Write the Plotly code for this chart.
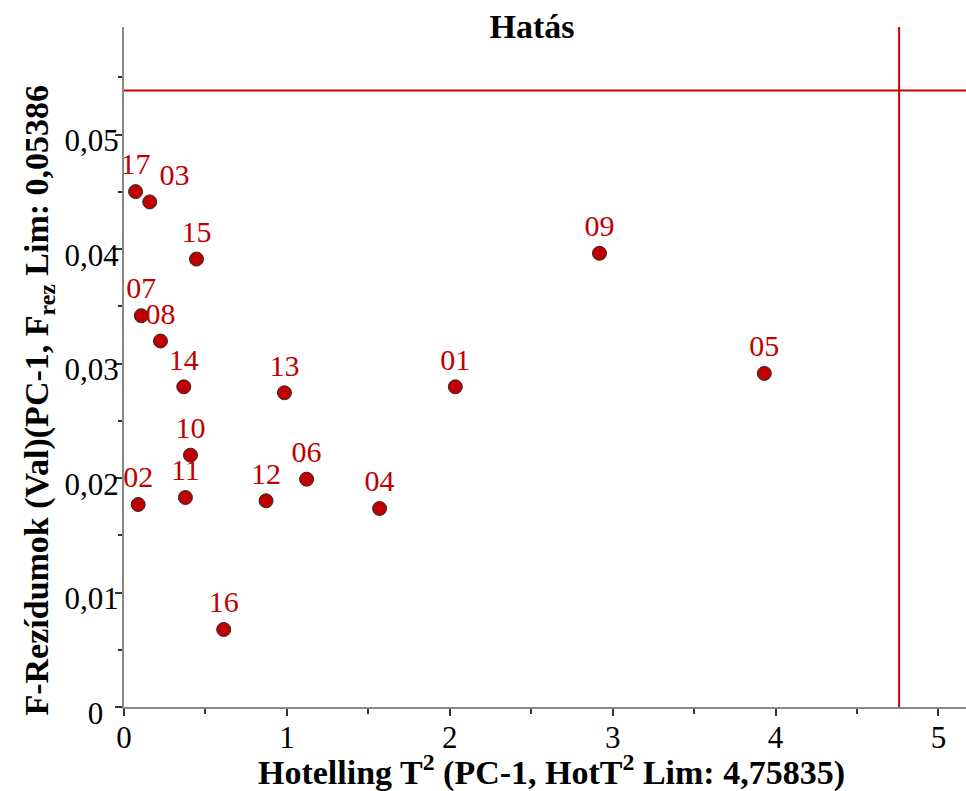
import plotly.graph_objects as go

# ---- data ----
sample_labels = ["01", "02", "03", "04", "05", "06", "07", "08", "09",
                 "10", "11", "12", "13", "14", "15", "16", "17"]
hotelling_t2 = [2.034, 0.087, 0.158, 1.569, 3.931, 1.121, 0.106, 0.224, 2.919,
                0.408, 0.377, 0.872, 0.985, 0.367, 0.445, 0.612, 0.071]
f_residuals = [0.02797, 0.01769, 0.04412, 0.01734, 0.02914, 0.01990, 0.03418, 0.03197, 0.03963,
               0.02200, 0.01830, 0.01801, 0.02745, 0.02797, 0.03913, 0.00677, 0.04502]
label_positions = ["top center", "top center", "top right", "top center", "top center",
                   "top center", "top center", "top center", "top center", "top center",
                   "top center", "top center", "top center", "top center", "top center",
                   "top center", "top center"]
hot_t2_limit = 4.75835
f_res_limit = 0.05386
x_range = [0, 5.169]
y_range = [0, 0.0594]
x_ticks = [0, 1, 2, 3, 4, 5]
y_ticks = [0, 0.01, 0.02, 0.03, 0.04, 0.05]
y_tick_text = ["0\u00a0\u00a0", "0,01", "0,02", "0,03", "0,04", "0,05"]

FONT = "Liberation Serif"
RED = "#c00000"
LINE_RED = "#cc0000"

fig = go.Figure()

# limit lines (drawn through data coordinates)
fig.add_trace(go.Scatter(x=x_range, y=[f_res_limit, f_res_limit], mode="lines",
                         line=dict(color=LINE_RED, width=2), hoverinfo="skip",
                         showlegend=False, cliponaxis=False))
fig.add_trace(go.Scatter(x=[hot_t2_limit, hot_t2_limit], y=y_range, mode="lines",
                         line=dict(color=LINE_RED, width=2), hoverinfo="skip",
                         showlegend=False, cliponaxis=False))

fig.add_trace(go.Scatter(
    x=hotelling_t2, y=f_residuals, mode="markers+text",
    text=sample_labels, textposition=label_positions,
    textfont=dict(family=FONT, size=30, color=RED),
    marker=dict(size=14, color=RED, line=dict(color="#2a2a2a", width=1)),
    showlegend=False, cliponaxis=False,
))

fig.update_layout(
    width=966, height=791,
    margin=dict(l=123.5, r=0, t=27, b=84),
    plot_bgcolor="white", paper_bgcolor="white",
    font=dict(family=FONT, size=31, color="black"),
    title=dict(text="<b>Hatás</b>", x=532 / 966, xanchor="center", xref="container",
               y=1 - 26 / 791, yanchor="middle", yref="container",
               font=dict(family=FONT, size=34, color="black")),
    xaxis=dict(range=x_range, tickvals=x_ticks, showgrid=False, zeroline=False,
               showline=True, linecolor="#888888", linewidth=2,
               ticks="outside", ticklen=7, tickwidth=2, tickcolor="#333333",
               ticklabelstandoff=-5,
               tickfont=dict(family=FONT, size=31, color="black"),
               minor=dict(tickvals=[0.5, 1.5, 2.5, 3.5, 4.5], ticks="outside",
                          ticklen=5, tickwidth=2, tickcolor="#333333")),
    yaxis=dict(range=y_range, tickvals=y_ticks, ticktext=y_tick_text,
               showgrid=False, zeroline=False,
               showline=True, linecolor="#888888", linewidth=2,
               ticks="outside", ticklen=7, tickwidth=2, tickcolor="#333333",
               ticklabelshift=6, ticklabelstandoff=-10,
               tickfont=dict(family=FONT, size=31, color="black"),
               minor=dict(tickvals=[0.005, 0.015, 0.025, 0.035, 0.045, 0.055],
                          ticks="outside", ticklen=4, tickwidth=2, tickcolor="#333333")),
    annotations=[
        dict(text="<b>Hotelling T<sup>2</sup> (PC-1, HotT<sup>2</sup> Lim: 4,75835)</b>",
             xref="paper", yref="paper", x=(551 - 123.5) / 842.5, y=(707 - 770) / 680,
             xanchor="center", yanchor="middle", showarrow=False,
             font=dict(family=FONT, size=34, color="black")),
        dict(text="<b>F-Rezídumok (Val)(PC-1, F<sub>rez</sub> Lim: 0,05386</b>",
             xref="paper", yref="paper", x=(38 - 123.5) / 842.5, y=(707 - 400) / 680,
             xanchor="center", yanchor="middle", textangle=-90, showarrow=False,
             font=dict(family=FONT, size=34, color="black")),
    ],
)

fig.write_html("out.html")
